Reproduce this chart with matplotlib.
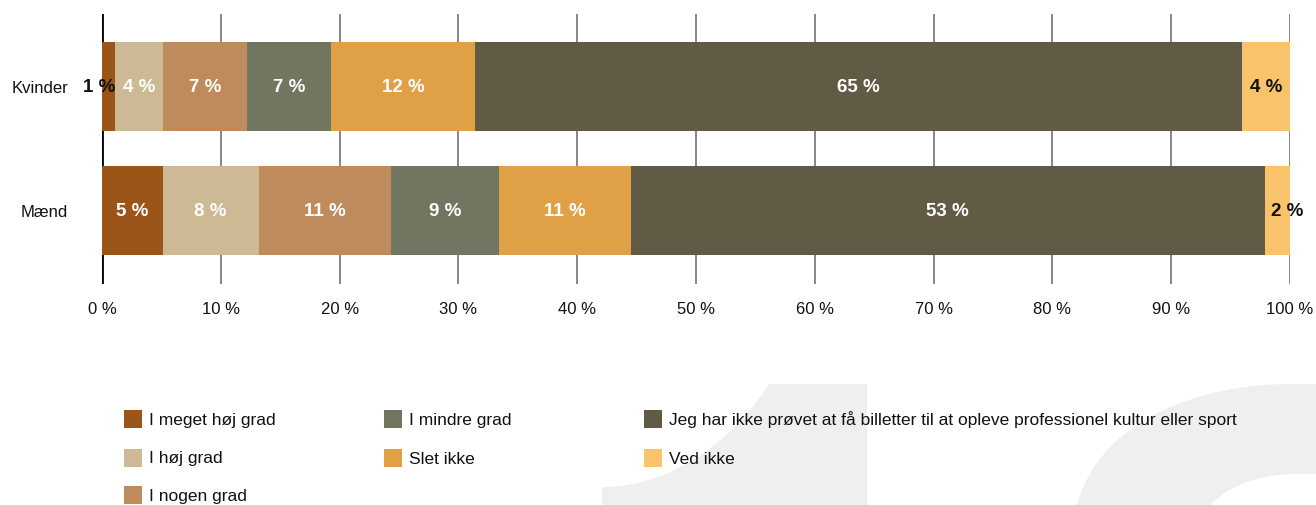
import matplotlib
matplotlib.use("Agg")
import matplotlib.pyplot as plt
from matplotlib.patches import Rectangle, PathPatch
from matplotlib.path import Path

plt.rcParams['font.family'] = ['Liberation Sans', 'DejaVu Sans']

categories = ["Kvinder", "Mænd"]
series = ["I meget høj grad", "I høj grad", "I nogen grad", "I mindre grad",
          "Slet ikke",
          "Jeg har ikke prøvet at få billetter til at opleve professionel kultur eller sport",
          "Ved ikke"]
kvinder = [1.1, 4.0, 7.1, 7.1, 12.1, 64.6, 4.0]
maend = [5.1, 8.1, 11.1, 9.1, 11.1, 53.4, 2.1]
colors = ["#9b5518", "#cdb994", "#bf8b5c", "#717660", "#dfa046", "#615a45", "#f8c36a"]
xticks = [0, 10, 20, 30, 40, 50, 60, 70, 80, 90, 100]
xticklabels = [f"{t} %" for t in xticks]

W, H = 1316, 505
fig = plt.figure(figsize=(W / 100, H / 100), dpi=100)

# background decoration + legend in pixel coordinates
bg = fig.add_axes([0, 0, 1, 1], zorder=0)
bg.set_xlim(0, W)
bg.set_ylim(H, 0)
bg.axis("off")
gray = "#efefed"
one = Path([(602, 505), (602, 487), (680, 487), (740, 430), (769, 384),
            (867, 384), (867, 505), (602, 505)],
           [Path.MOVETO, Path.LINETO, Path.CURVE4, Path.CURVE4, Path.CURVE4,
            Path.LINETO, Path.LINETO, Path.CLOSEPOLY])
bg.add_patch(PathPatch(one, facecolor=gray, edgecolor="none"))
ring = Path([(1077, 505), (1100, 420), (1200, 384), (1290, 384),
             (1316, 384), (1316, 474),
             (1270, 472), (1235, 480), (1210, 505), (1077, 505)],
            [Path.MOVETO, Path.CURVE4, Path.CURVE4, Path.CURVE4,
             Path.LINETO, Path.LINETO,
             Path.CURVE4, Path.CURVE4, Path.CURVE4, Path.CLOSEPOLY])
bg.add_patch(PathPatch(ring, facecolor=gray, edgecolor="none"))

# legend layout: columns with 3, 2, 2 items
leg_cols = [[0, 1, 2], [3, 4], [5, 6]]
col_x = [124, 384, 644]
row_y = [419, 458, 495]
for cx, items in zip(col_x, leg_cols):
    for ry, idx in zip(row_y, items):
        bg.add_patch(Rectangle((cx, ry - 9), 18, 18, facecolor=colors[idx], edgecolor="none"))
        bg.text(cx + 25, ry + 1, series[idx], fontsize=12.5, va="center", ha="left", color="#111111")

# main chart
ax = fig.add_axes([102 / W, 1 - 284 / H, 1188 / W, 270 / H], zorder=1)
ax.patch.set_alpha(0)
ypos = list(range(len(categories)))
data = [kvinder, maend]
height = 89 / 124
lefts = [0.0] * len(categories)
for si, name in enumerate(series):
    vals = [d[si] for d in data]
    ax.barh(ypos, vals, left=lefts, height=height, color=colors[si],
            edgecolor="none", zorder=2, label=name)
    for ci, (v, l) in enumerate(zip(vals, lefts)):
        txt = f"{round(v)} %"
        tc = "#111111" if (si == len(series) - 1 or v < 3) else "white"
        if v < 3 and si == 0:
            x, ha = l + v, "right"
        elif v < 3 and si == len(series) - 1:
            x, ha = l + 0.5, "left"
        else:
            x, ha = l + v / 2, "center"
        ax.text(x, ci + 0.01, txt, ha=ha, va="center", color=tc, fontsize=13.5,
                fontweight="bold", zorder=3)
    lefts = [a + b for a, b in zip(lefts, vals)]

ax.set_xlim(0, 100)
ax.set_ylim(1 + 73.5 / 124, -72.5 / 124)
ax.set_xticks(xticks)
ax.set_xticklabels(xticklabels, fontsize=12, color="#111111")
ax.set_yticks(ypos)
ax.set_yticklabels(categories, fontsize=12, color="#111111")
ax.tick_params(axis="x", length=0, pad=13)
ax.tick_params(axis="y", length=0, pad=24.5)
for s in ax.spines.values():
    s.set_visible(False)
for t in xticks[1:]:
    ax.axvline(t, color="#666666", lw=1.1, zorder=1)
ax.axvline(0, color="black", lw=2, zorder=1)

fig.savefig("out.png", dpi=100)
